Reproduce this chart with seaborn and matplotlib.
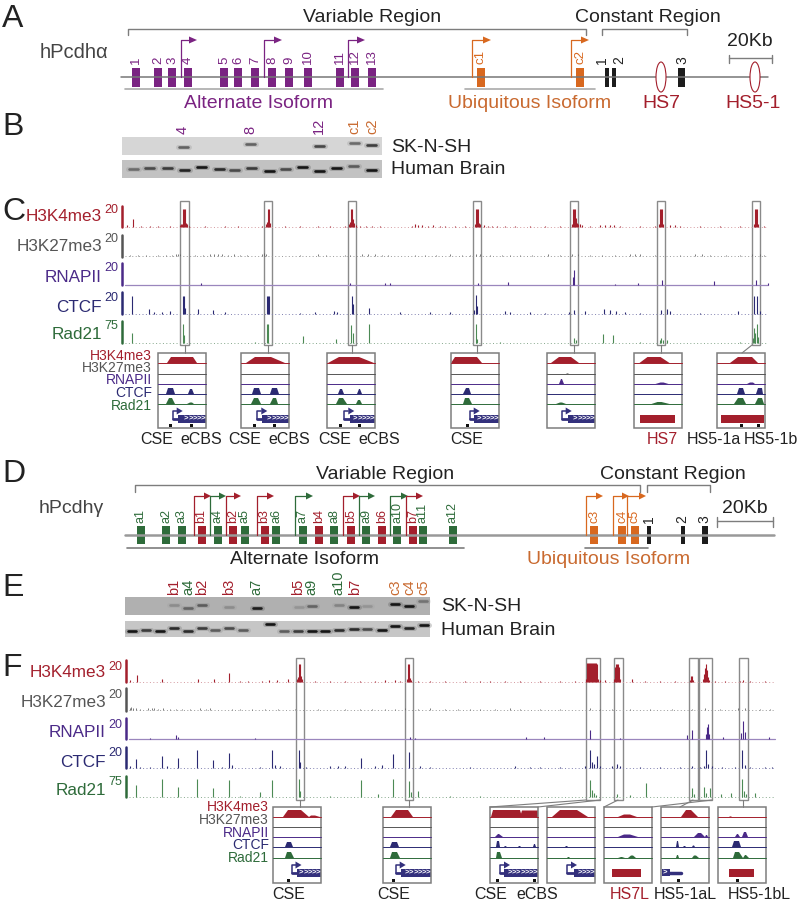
import matplotlib
matplotlib.use('Agg')
import matplotlib.pyplot as plt
import seaborn as sns
from matplotlib.patches import Ellipse, Rectangle, Polygon

sns.set_theme(style='white')
plt.rcParams['font.family'] = ['Liberation Sans', 'DejaVu Sans']

PURPLE = '#7a2382'
ORANGE = '#d8681f'
LORANGE = '#c96a30'
RED = '#a31f2c'
GREEN = '#2e6b3a'
BLACK = '#222222'
GRAY = '#7d7d7d'
K27 = '#555555'
POL = '#4b2a88'
CT = '#2b2a72'
NAVY = '#33307c'

# panel A gene model
a_alt_x = [136, 158, 172, 188, 224, 238, 255, 272, 289, 308, 340, 355, 372]
a_alt_lab = ['1', '2', '3', '4', '5', '6', '7', '8', '9', '10', '11', '12', '13']
a_ubi_x = [481, 580]
a_ubi_lab = ['c1', 'c2']
a_con_x = [607, 614, 681.5]
a_con_w = [4, 4, 7]
a_con_labx = [602, 619, 682]
a_con_lab = ['1', '2', '3']
a_tss = [181, 264, 348, 472, 571]
a_tss_end = [197, 282, 365, 491, 589]
a_tss_col = [PURPLE, PURPLE, PURPLE, ORANGE, ORANGE]

# panel B gel
b_lab = ['4', '8', '12', 'c1', 'c2']
b_lab_x = [183, 250, 319, 354, 372]
b_lab_col = [PURPLE, PURPLE, PURPLE, LORANGE, LORANGE]
b_top_x = [183, 250, 319, 354, 371]
b_top_y = [147, 144, 146, 143, 145]
b_top_a = [0.55, 0.55, 0.7, 0.5, 0.75]
b_low_x = [133, 149, 167, 184, 201, 219, 234, 251, 269, 285, 302, 319, 336, 353, 371]
b_low_y = [169, 168, 168, 170, 167, 169, 170, 168, 171, 169, 167, 171, 168, 166, 170]
b_low_a = [0.45, 0.65, 0.75, 0.9, 1, 0.85, 0.65, 0.75, 1, 0.65, 1, 1, 1, 0.55, 1]

# panel C signal tracks
c_base = [226.7, 255.7, 284.7, 314, 342.7]
c_k4_x = [127, 133, 141, 150, 158, 170, 180, 181, 182, 183, 184, 185, 186, 187, 189, 205, 225, 238, 262, 266, 267, 268,
          269, 270, 285, 300, 318, 330, 345, 349, 350, 351, 352, 353, 354, 356, 360, 366, 372, 380, 412, 415, 418, 422,
          428, 433, 440, 445, 455, 465, 475, 476, 477, 478, 479, 480, 484, 488, 492, 497, 505, 515, 530, 545, 560, 572,
          573, 574, 575, 576, 577, 578, 580, 582, 590, 600, 605, 610, 614, 620, 640, 655, 659, 660, 661, 662, 663, 670,
          675, 680, 700, 720, 740, 754, 755, 756, 757, 758, 764]
c_k4_h = [2, 8, 1, 1, 1, 1, 2, 3, 3, 18, 18, 18, 4, 3, 1, 1, 1, 1, 1, 3, 5, 18,
          18, 4, 1, 1, 1, 1, 1, 3, 5, 18, 18, 8, 4, 2, 1, 1, 1, 1, 1, 3, 2, 2,
          1, 2, 1, 1, 1, 1, 3, 18, 18, 18, 4, 3, 2, 1, 1, 1, 1, 1, 1, 1, 1, 3,
          18, 18, 18, 9, 4, 3, 3, 2, 1, 2, 2, 2, 2, 1, 1, 1, 3, 18, 18, 18, 3, 2,
          2, 1, 1, 1, 1, 3, 18, 18, 18, 3, 1]
c_k27_x = [130, 138, 146, 158, 166, 172, 176, 178, 180, 195, 203, 210, 214, 218, 222, 228, 234, 240, 247, 262, 264, 266,
           300, 318, 326, 345, 350, 362, 368, 375, 382, 388, 415, 425, 436, 450, 462, 470, 476, 480, 490, 502, 510, 520,
           532, 548, 560, 572, 578, 590, 602, 615, 630, 635, 640, 655, 680, 695, 702, 710, 726, 740, 752, 760, 764]
c_k27_h = [1, 1, 1, 1, 1, 1, 2, 2, 2, 1, 1, 2, 2, 2, 2, 1, 2, 1, 1, 2, 3, 2,
           1, 2, 1, 1, 1, 2, 2, 2, 1, 1, 1, 1, 1, 2, 1, 1, 2, 2, 1, 1, 1, 1,
           1, 2, 1, 2, 2, 1, 1, 1, 2, 2, 2, 1, 1, 2, 2, 1, 1, 1, 2, 2, 1]
c_pol_x = [201, 350, 385, 390, 478, 508, 573, 574, 615, 638, 662, 714, 756, 768]
c_pol_h = [2, 2, 2, 2, 2, 3, 8, 15, 1, 2, 5, 4, 5, 2]
c_ctcf_x = [132, 149, 154, 162, 170, 183, 184, 185, 198, 213, 225, 267, 268, 269, 300, 315, 334, 337, 352, 353, 369, 400,
            430, 450, 474, 476, 477, 505, 510, 530, 545, 569, 574, 585, 604, 610, 616, 625, 640, 661, 667, 670, 700,
            738, 754, 757, 760]
c_ctcf_h = [18, 5, 2, 2, 3, 18, 18, 6, 5, 4, 2, 18, 18, 18, 1, 2, 3, 2, 18, 10, 6, 2,
            2, 2, 4, 19, 8, 3, 2, 2, 1, 2, 4, 3, 5, 4, 3, 2, 1, 4, 5, 3, 1,
            3, 18, 18, 3]
c_rad_x = [132, 183, 184, 303, 255, 267, 268, 336, 351, 353, 369, 476, 477, 500, 574, 576, 603, 613, 640, 660, 661, 663,
           667, 740, 753, 754, 755, 757, 758]
c_rad_h = [10, 19, 8, 7, 1, 19, 19, 4, 18, 10, 19, 19, 4, 1, 5, 3, 9, 8, 1, 3, 5, 3,
           3, 1, 5, 15, 10, 19, 6]
c_box_x = [184.6, 268, 352, 477, 574, 661, 756]

# panel C labels
track_lab = ['H3K4me3', 'H3K27me3', 'RNAPII', 'CTCF', 'Rad21']
track_col = [RED, K27, POL, CT, GREEN]
track_scale = ['20', '20', '20', '20', '75']
c_lab_y = [216, 246, 277, 307, 334]
c_num_y = [210, 239, 268, 298, 326]
c_bar_top = [205.7, 235, 262.7, 291.7, 321]
c_bar_bot = [227, 256.7, 285, 314, 343]

# inset contents: per track (start, top left, top right, end, height)
c_in_left = [158, 241, 327, 451, 547, 633.5, 717]
c_in_peaks = [
    [[(9, 13, 35, 39, 6)], [], [], [(8, 10, 15, 17, 6), (30, 32, 34, 36, 5)], [(8, 11, 14, 17, 6), (29, 32, 34, 36, 1.5)]],
    [[(5, 14, 30, 44, 6)], [], [], [(11, 13, 18, 20, 6), (29, 31, 36, 38, 6)], [(10, 13, 17, 20, 6), (29, 32, 35, 37, 6)]],
    [[(1, 12, 32, 47, 6)], [], [], [(11, 13, 15, 17, 5), (30, 32, 33, 35, 5)], [(9, 12, 16, 20, 6), (29, 31, 33, 35, 4)]],
    [[(0, 4, 26, 31, 6)], [], [], [(12, 15, 18, 20, 6)], [(12, 14, 18, 21, 6)]],
    [[(4, 12, 24, 32, 6)], [(19, 20, 21, 22, 0.6)], [(12, 14, 15, 17, 5)], [], [(9, 13, 15, 19, 1.5)]],
    [[(6, 14, 27, 36, 6)], [], [(22, 27, 30, 35, 1.5)], [], [(18, 24, 28, 36, 2)]],
    [[(13, 21, 35, 41, 6)], [], [(30, 33, 36, 38, 1.5)], [(20, 22, 26, 28, 6), (39, 41, 45, 46, 6)], [(17, 21, 26, 29, 6), (38, 41, 45, 47, 6)]],
]
c_in_tss = [14.7, 16.3, 17.3, 18.7, 14.7, None, None]
c_in_bar = [20, 21, 23, 22.7, 21, None, None]
c_in_chev = [5, 5, 5, 5, 5, 0, 0]
c_in_hs = [None, None, None, None, None, (6.7, 41), (4.3, 46.7)]
c_in_marks = [[12, 33], [13.7, 33], [13.7, 32.7], [16.7], [], [], [24, 41]]
c_foot = ['CSE', 'eCBS', 'CSE', 'eCBS', 'CSE', 'eCBS', 'CSE', 'HS7', 'HS5-1a', 'HS5-1b']
c_foot_x = [157, 201, 245, 289, 335, 379, 467, 662, 714, 771]
c_foot_col = [BLACK] * 7 + [RED, BLACK, BLACK]

# panel D gene model
d_exon_x = [140.5, 166, 181.5, 201.5, 217.5, 233, 244.6, 264.6, 276, 303, 319, 334, 351, 366, 382, 397.4, 413, 423, 453]
d_exon_lab = ['a1', 'a2', 'a3', 'b1', 'a4', 'b2', 'a5', 'b3', 'a6', 'a7', 'b4', 'a8', 'b5', 'a9', 'b6', 'a10', 'b7', 'a11', 'a12']
d_ubi_x = [594, 622, 635]
d_ubi_lab = ['c3', 'c4', 'c5']
d_con_x = [649, 682.5, 704.6]
d_con_w = [4, 4, 6]
d_con_lab = ['1', '2', '3']
d_tss = [194, 210, 226, 257, 295, 343, 359, 390, 406, 585.5, 613, 627]
d_tss_end = [211, 226, 241, 274, 313, 360, 375, 408, 423, 603, 629, 646]
d_tss_col = [RED, GREEN, RED, RED, GREEN, RED, GREEN, GREEN, RED, ORANGE, ORANGE, ORANGE]

# panel E gel
e_lab = ['b1', 'a4', 'b2', 'b3', 'a7', 'b5', 'a9', 'a10', 'b7', 'c3', 'c4', 'c5']
e_lab_x = [174, 188, 202, 229, 256, 298, 311, 338, 355, 395, 409, 423]
e_top_x = [174, 188, 202, 229, 257, 299, 312, 339, 354, 367, 395, 409, 423]
e_top_y = [605, 608, 605, 607, 608, 607, 606, 605, 607, 606, 604, 606, 601]
e_top_a = [0.2, 0.45, 0.5, 0.2, 0.95, 0.15, 0.45, 0.25, 1, 0.15, 1, 1, 0.35]
e_low_x = [132, 146, 160, 174, 188, 202, 215, 229, 243, 270, 284, 298, 312, 325, 339, 354, 367, 382, 395, 409, 424]
e_low_y = [630.7, 629.7, 631, 628, 631, 628, 630, 628, 630, 624, 631, 631, 630.7, 631, 630, 629, 629, 630, 626, 628, 625]
e_low_a = [1, 0.75, 1, 0.85, 0.85, 0.75, 0.55, 0.65, 0.55, 1, 0.55, 0.75, 1, 1, 0.85, 0.85, 0.65, 1, 1, 0.9, 1]

# panel F signal tracks
f_base = [681.7, 710, 738.7, 767.7, 796.7]
f_k4_x = [130, 137, 162, 198, 214, 229, 240, 248, 262, 269, 277, 288, 297, 298, 299, 300, 301, 302, 315, 330, 345, 360,
          375, 385, 395, 400, 407, 408, 409, 410, 411, 418, 430, 445, 465, 480, 490, 505, 520, 540, 560, 575, 586, 587,
          588, 589, 590, 591, 592, 593, 594, 595, 596, 597, 598, 600, 605, 614, 615, 616, 617, 618, 619, 620, 632, 645,
          660, 675, 690, 691, 692, 693, 703, 704, 705, 706, 707, 708, 709, 715, 725, 740, 743, 750, 765]
f_k4_h = [2, 7, 3, 3, 3, 9, 1, 1, 1, 2, 2, 3, 3, 5, 18, 18, 6, 3, 1, 1, 1, 1,
          1, 2, 2, 1, 3, 18, 18, 4, 2, 1, 1, 1, 1, 1, 1, 1, 1, 1, 1, 1, 3, 19,
          19, 19, 19, 19, 19, 19, 19, 19, 19, 18, 3, 2, 2, 3, 15, 18, 18, 18, 15, 3, 3, 1,
          1, 1, 2, 6, 6, 2, 3, 8, 14, 18, 12, 5, 2, 1, 1, 1, 2, 1, 1]
f_k27_x = [130, 131, 133, 136, 140, 148, 152, 154, 158, 163, 170, 176, 182, 190, 200, 206, 210, 232, 240, 252, 265, 278,
           295, 318, 345, 360, 372, 385, 395, 405, 418, 430, 445, 458, 470, 480, 495, 510, 520, 540, 560, 590, 600, 612,
           630, 650, 672, 692, 705, 720, 738, 745, 760, 770]
f_k27_h = [2, 3, 2, 2, 1, 2, 2, 2, 1, 2, 1, 1, 1, 1, 2, 1, 2, 1, 1, 1, 1, 1,
           1, 1, 1, 1, 1, 1, 1, 2, 1, 2, 1, 1, 1, 1, 1, 2, 1, 1, 1, 2, 1, 1,
           1, 1, 1, 1, 2, 1, 2, 2, 1, 1]
f_pol_x = [150, 176, 178, 255, 410, 415, 526, 544, 590, 620, 687, 692, 706, 707, 708, 709, 723, 741, 743, 745, 769]
f_pol_h = [1, 4, 2, 1, 2, 1, 2, 2, 9, 1, 4, 9, 5, 12, 15, 5, 2, 6, 18, 7, 2]
f_ctcf_x = [130, 136, 140, 150, 162, 167, 178, 197, 213, 222, 229, 232, 260, 272, 275, 280, 299, 300, 306, 330, 338, 345,
            361, 375, 382, 393, 409, 420, 430, 470, 515, 530, 540, 560, 585, 590, 592, 594, 597, 600, 612, 617, 620, 640,
            660, 680, 692, 700, 704, 706, 708, 712, 722, 735, 742, 745, 750, 765, 772]
f_ctcf_h = [2, 9, 1, 1, 12, 2, 10, 18, 8, 1, 15, 3, 1, 18, 3, 2, 18, 6, 1, 2, 2, 2,
            10, 2, 3, 14, 16, 2, 1, 1, 2, 1, 1, 1, 2, 18, 6, 4, 12, 2, 2, 4, 2, 1,
            1, 1, 2, 1, 2, 18, 4, 2, 1, 1, 18, 3, 1, 1, 1]
f_rad_x = [136, 162, 178, 197, 213, 229, 240, 260, 272, 299, 300, 330, 361, 378, 393, 409, 411, 418, 450, 480, 590, 592,
           594, 596, 617, 630, 646, 692, 694, 704, 706, 710, 721, 731, 742, 744, 746, 755]
f_rad_h = [12, 18, 10, 18, 9, 17, 1, 5, 17, 18, 6, 1, 17, 3, 18, 16, 5, 6, 1, 1, 17, 7,
           4, 2, 3, 2, 14, 9, 3, 10, 4, 9, 3, 4, 18, 6, 3, 4]
f_box_l = [296, 405, 586, 614, 689, 699, 738.5]
f_box_r = [304, 413, 599.5, 622.5, 697.5, 712, 748]

f_lab_y = [672, 702, 732, 762, 790]
f_num_y = [667, 695, 725, 753, 782]
f_bar_top = [660, 688, 718, 747, 776]
f_bar_bot = [682, 711, 739, 768, 797]

f_in_left = [273, 383, 490, 547, 604, 661, 718]
f_in_peaks = [
    [[(10, 15, 28, 36, 7), (36, 38, 42, 47, 1.5)], [], [], [(12, 14, 18, 20, 5)], [(12, 14, 18, 21, 6)]],
    [[(8, 13, 25, 30, 7)], [], [], [(7, 9, 14, 16, 5)], [(7, 9, 14, 17, 6)]],
    [[(1, 3, 30, 32, 7), (30, 32, 48, 48, 6.5)], [], [(5, 8, 9, 13, 3)], [(6, 7, 9, 10, 6), (14, 15, 15.5, 17, 1), (28, 29, 30, 31, 1), (43, 44, 45, 46, 3)], [(6, 7, 10, 12, 6)]],
    [[(5, 13, 30, 41, 7)], [], [], [(18, 19, 20, 21, 1)], [(20, 21, 22, 23, 1)]],
    [[(14, 20, 26, 33, 2.5)], [], [(14, 20, 26, 34, 2.5)], [], [(14, 17, 18, 21, 1), (24, 27, 29, 32, 2.5)]],
    [[(20, 25, 30, 37, 7)], [], [(33, 37, 40, 44, 4), (44, 45, 46, 47, 2)], [(15, 16, 17, 18, 6), (22, 23, 24, 25, 1), (31, 32, 33, 34, 1.5)], [(15, 16, 17, 18, 3), (31, 33, 35, 38, 2.5)]],
    [[(11, 12, 13, 14, 0.6)], [], [(17, 19, 20, 22, 3), (24, 26, 28, 30, 5)], [(14, 16, 21, 23, 6)], [(15, 17, 21, 25, 6), (25, 27, 28, 31, 3)]],
]
f_in_tss = [18.5, 12.7, 10, 20, None, None, None]
f_in_bar = [24, 17.6, 13.5, 27, None, None, None]
f_in_chev = [5, 6, 7, 4, 0, 0, 0]
f_in_hs = [None, None, None, None, (8, 37), None, (11, 36)]
f_in_marks = [[15.5], [10.6], [7, 44.6], [], [], [17], [19]]
f_foot = ['CSE', 'CSE', 'CSE', 'eCBS', 'HS7L', 'HS5-1aL', 'HS5-1bL']
f_foot_x = [289, 394, 491, 537, 629.5, 685, 759]
f_foot_col = [BLACK, BLACK, BLACK, BLACK, RED, BLACK, BLACK]
f_links = [((300, 800), (300, 807)), ((409, 800), (409, 807)), ((586, 800), (490, 807)), ((600, 800), (538, 807)),
           ((618, 800), (604, 807)), ((712, 800), (652, 807)), ((693, 800), (680, 807)), ((743, 800), (743, 807))]

fig = plt.figure(figsize=(8, 9.05), dpi=100)
ax = fig.add_axes([0, 0, 1, 1])
ax.set_xlim(0, 800)
ax.set_ylim(905, 0)
ax.set_autoscale_on(False)
ax.set_axis_off()


def txt(x, y, s, size=14, color=BLACK, ha='center', va='center', rot=0, **kw):
    ax.text(x, y, s, fontsize=size, color=color, ha=ha, va=va, rotation=rot, **kw)


def hline(x0, x1, y, color=GRAY, lw=1.0, ls='-'):
    sns.lineplot(x=[x0, x1], y=[y, y], color=color, lw=lw, linestyle=ls, ax=ax, legend=False, errorbar=None)


def bracket(x0, x1, top, bot):
    ax.plot([x0, x0, x1, x1], [bot, top, top, bot], color=GRAY, lw=1)


def exons(xs, top, bot, color, width=8):
    for x in xs:
        ax.add_patch(Rectangle((x - width / 2, top), width, bot - top, color=color, lw=0))


def tss(x, end, top, base, color, tip=8, half=3.5, lw=0.9):
    ax.plot([x, x, end - tip], [base, top, top], color=color, lw=lw)
    ax.add_patch(Polygon([(end - tip, top - half), (end, top), (end - tip, top + half)], color=color, lw=0))


def gel(x0, x1, y0, y1, color):
    ax.add_patch(Rectangle((x0, y0), x1 - x0, y1 - y0, color=color, lw=0))


def bands(xs, ys, alphas, half=5.5):
    for x, y, a in zip(xs, ys, alphas):
        ax.plot([x - half, x + half], [y, y], color='#444444', lw=3.6, alpha=a * 0.25, solid_capstyle='round')
        ax.plot([x - half + 1, x + half - 1], [y, y], color='#151515', lw=1.9, alpha=a, solid_capstyle='round')


def signal(xs, hs, base, color, lw=0.8):
    ax.vlines(xs, base, [base - h for h in hs], color=color, lw=lw)


def inset(left, top, bot, rows, peaks, tssx, barx, chev, hs, marks, gene_y, mark_y, width=48):
    for i, y in enumerate(rows):
        hline(left, left + width, y, color=track_col[i], lw=0.7, ls='-')
        for a, b, c, d, h in peaks[i]:
            ax.fill([left + a, left + b, left + c, left + d], [y, y - h, y - h, y], color=track_col[i], lw=0)
    if tssx is not None:
        tss(left + tssx, left + tssx + 10, gene_y - 7, gene_y + 1, NAVY, tip=6, half=3.5, lw=1.1)
        ax.plot([left + tssx, left + barx], [gene_y + 1, gene_y + 1], color=NAVY, lw=2)
        ax.add_patch(Rectangle((left + barx, gene_y - 3), width - barx, 7.5, color=NAVY, lw=0))
        for k in range(chev):
            txt(left + width - 3 - k * 4.2, gene_y + 0.5, '>', size=5.5, color='white', fontweight='bold')
    if hs is not None:
        ax.add_patch(Rectangle((left + hs[0], gene_y - 3), hs[1] - hs[0], 8, color=RED, lw=0))
    for m in marks:
        ax.add_patch(Rectangle((left + m - 1.5, mark_y - 1.5), 3, 3, color='#111111', lw=0))
    ax.add_patch(Rectangle((left, top), width, bot - top, fill=False, ec=GRAY, lw=1.1))


# panel A
txt(2, 19, 'A', size=23, ha='left')
txt(40, 52, 'hPcdh\u03b1', size=14.5, color='#444444', ha='left')
txt(372, 17, 'Variable Region', size=14)
txt(648, 17, 'Constant Region', size=14)
bracket(128, 586, 29, 35)
bracket(602, 687, 29, 35)
hline(121, 768, 77.5, color='#777777', lw=1.1)
exons(a_alt_x, 68, 87, PURPLE)
exons(a_ubi_x, 68, 87, ORANGE)
for x, w in zip(a_con_x, a_con_w):
    exons([x], 68, 87, '#1c1c1c', width=w)
for x, s in zip(a_alt_x, a_alt_lab):
    txt(x, 64, s, size=9.5, color=PURPLE, va='bottom', rot=90)
for x, s in zip(a_ubi_x, a_ubi_lab):
    txt(x, 64, s, size=9.5, color=ORANGE, va='bottom', rot=90)
for x, s in zip(a_con_labx, a_con_lab):
    txt(x, 64, s, size=10, va='bottom', rot=90)
for x, e, c in zip(a_tss, a_tss_end, a_tss_col):
    tss(x, e, 40, 77.5, c)
for x in [661, 755]:
    ax.add_patch(Ellipse((x, 77), 10, 30, fc='white', ec=RED, lw=0.8, zorder=3))
hline(124.6, 383, 89.5, color='#aaaaaa', lw=1.2)
hline(465, 595, 89.5, color='#aaaaaa', lw=1.2)
txt(258, 103, 'Alternate Isoform', size=14, color=PURPLE)
txt(530, 103, 'Ubiquitous Isoform', size=14, color=LORANGE)
txt(661, 103, 'HS7', size=14, color=RED)
txt(753, 103, 'HS5-1', size=14, color=RED)
txt(750, 42, '20Kb', size=14)
hline(729, 772, 58.5, color=GRAY, lw=1)
for x in [729, 772]:
    ax.plot([x, x], [55, 63], color=GRAY, lw=1)

# panel B
txt(2, 127, 'B', size=23, ha='left')
gel(122, 382, 137, 155, '#d6d6d6')
gel(122, 382, 160, 178, '#c2c2c2')
bands(b_top_x, b_top_y, b_top_a)
bands(b_low_x, b_low_y, b_low_a)
for x, s, c in zip(b_lab_x, b_lab, b_lab_col):
    txt(x, 134, s, size=10.5, color=c, va='bottom', rot=90)
txt(391, 147, 'SK-N-SH', size=14, ha='left')
txt(391, 170, 'Human Brain', size=14, ha='left')

# panel C
txt(2, 212, 'C', size=23, ha='left')
for i in range(5):
    txt(102, c_lab_y[i], track_lab[i], size=12.3, color=track_col[i], ha='right')
    txt(111, c_num_y[i], track_scale[i], size=9, color=track_col[i])
    ax.plot([121.5, 121.5], [c_bar_top[i], c_bar_bot[i]], color=track_col[i], lw=1.8)
hline(125, 768, c_base[0], color='#d49aa0', lw=0.7, ls=(0, (1, 2.5)))
hline(125, 768, c_base[1], color='#999999', lw=0.7, ls=(0, (1, 2.5)))
hline(125, 768, c_base[2], color='#9a86bd', lw=0.9)
hline(125, 768, c_base[3], color='#8080b0', lw=0.7, ls=(0, (1, 2.5)))
hline(125, 768, c_base[4], color='#86a88c', lw=0.7, ls=(0, (1, 2.5)))
signal(c_k4_x, c_k4_h, c_base[0], RED)
signal(c_k27_x, c_k27_h, c_base[1], '#666666', lw=0.6)
signal(c_pol_x, c_pol_h, c_base[2], POL)
signal(c_ctcf_x, c_ctcf_h, c_base[3], CT)
signal(c_rad_x, c_rad_h, c_base[4], '#4c8a55')
for x in c_box_x:
    ax.add_patch(Rectangle((x - 4.3, 200.7), 8.6, 144.3, fill=False, ec='#8a8a8a', lw=1))
for x, l in zip(c_box_x[:6], c_in_left[:6]):
    ax.plot([x, x], [345, 353], color=GRAY, lw=0.8)
ax.plot([752, 742], [345, 353], color=GRAY, lw=0.8)
c_rows = [363, 374, 384, 394, 404]
for j in range(7):
    inset(c_in_left[j], 353, 428, c_rows, c_in_peaks[j], c_in_tss[j], c_in_bar[j], c_in_chev[j], c_in_hs[j],
          c_in_marks[j], 418, 425.6)
for i in range(5):
    txt(152, [356, 368, 380, 393, 406][i], track_lab[i], size=10, color=track_col[i], ha='right')
for x, s, c in zip(c_foot_x, c_foot, c_foot_col):
    txt(x, 439, s, size=11.5, color=c)

# panel D
txt(2, 474, 'D', size=23, ha='left')
txt(39, 508, 'hPcdh\u03b3', size=14, color='#444444', ha='left')
txt(385, 474, 'Variable Region', size=14)
txt(673, 474, 'Constant Region', size=14)
bracket(135, 640, 485, 492)
bracket(647, 710, 485, 492)
hline(125, 774, 535, color='#999999', lw=1.8)
for x, s in zip(d_exon_x, d_exon_lab):
    col = GREEN if s[0] == 'a' else RED
    exons([x], 526, 544, col)
    txt(x, 523, s, size=9, color=col, va='bottom', rot=90)
exons(d_ubi_x, 526, 544, ORANGE)
for x, s in zip(d_ubi_x, d_ubi_lab):
    txt(x, 523, s, size=9, color=ORANGE, va='bottom', rot=90)
for x, w, s in zip(d_con_x, d_con_w, d_con_lab):
    exons([x], 526, 544, '#1c1c1c', width=w)
    txt(x, 523, s, size=10, va='bottom', rot=90)
for x, e, c in zip(d_tss, d_tss_end, d_tss_col):
    tss(x, e, 496, 535, c, tip=7)
hline(127, 464, 547.5, color=GRAY, lw=1.2)
hline(585, 648, 547.5, color=GRAY, lw=1.2)
txt(304, 559, 'Alternate Isoform', size=14)
txt(609, 559, 'Ubiquitous Isoform', size=14, color=LORANGE)
txt(745, 508, '20Kb', size=14)
hline(717, 773, 520.7, color=GRAY, lw=1)
for x in [717, 773]:
    ax.plot([x, x], [517, 527], color=GRAY, lw=1)

# panel E
txt(2, 588, 'E', size=23, ha='left')
gel(125, 430, 597, 615, '#b0b0b0')
gel(125, 430, 621, 637, '#c6c6c6')
bands(e_top_x, e_top_y, e_top_a, half=5)
bands(e_low_x, e_low_y, e_low_a, half=5)
for x, s in zip(e_lab_x, e_lab):
    col = LORANGE if s[0] == 'c' else (GREEN if s[0] == 'a' else RED)
    txt(x, 595, s, size=10.5, color=col, va='bottom', rot=90)
txt(441, 606, 'SK-N-SH', size=14, ha='left')
txt(441, 630, 'Human Brain', size=14, ha='left')

# panel F
txt(2, 668, 'F', size=23, ha='left')
for i in range(5):
    txt(106, f_lab_y[i], track_lab[i], size=12.3, color=track_col[i], ha='right')
    txt(115, f_num_y[i], track_scale[i], size=9, color=track_col[i])
    ax.plot([126, 126], [f_bar_top[i], f_bar_bot[i]], color=track_col[i], lw=1.8)
hline(129, 775, f_base[0], color='#d49aa0', lw=0.7, ls=(0, (1, 2.5)))
hline(129, 775, f_base[1], color='#999999', lw=0.7, ls=(0, (1, 2.5)))
hline(129, 775, f_base[2], color='#9a86bd', lw=0.9)
hline(129, 775, f_base[3], color='#8080b0', lw=0.7, ls=(0, (1, 2.5)))
hline(129, 775, f_base[4], color='#86a88c', lw=0.7, ls=(0, (1, 2.5)))
signal(f_k4_x, f_k4_h, f_base[0], RED)
signal(f_k27_x, f_k27_h, f_base[1], '#666666', lw=0.6)
signal(f_pol_x, f_pol_h, f_base[2], POL)
signal(f_ctcf_x, f_ctcf_h, f_base[3], CT)
signal(f_rad_x, f_rad_h, f_base[4], '#4c8a55')
for l, r in zip(f_box_l, f_box_r):
    ax.add_patch(Rectangle((l, 658), r - l, 142, fill=False, ec='#8a8a8a', lw=1))
for p, q in f_links:
    ax.plot([p[0], q[0]], [p[1], q[1]], color=GRAY, lw=0.8)
f_rows = [817, 827, 837, 847, 858]
for j in range(7):
    inset(f_in_left[j], 807, 883, f_rows, f_in_peaks[j], f_in_tss[j], f_in_bar[j], f_in_chev[j], f_in_hs[j],
          f_in_marks[j], 872, 880)
# the HS5-1aL gene runs off the left edge of its inset
ax.add_patch(Rectangle((661.5, 869), 8, 7, color=NAVY, lw=0))
ax.plot([669, 681], [872.5, 872.5], color=NAVY, lw=2.5)
txt(665, 872.5, '>', size=5.5, color='white', fontweight='bold')
for i in range(5):
    txt(269, [807, 820, 833, 845, 858][i], track_lab[i], size=10, color=track_col[i], ha='right')
for x, s, c in zip(f_foot_x, f_foot, f_foot_col):
    txt(x, 894, s, size=11.5, color=c)

fig.savefig('out.png', dpi=100)
